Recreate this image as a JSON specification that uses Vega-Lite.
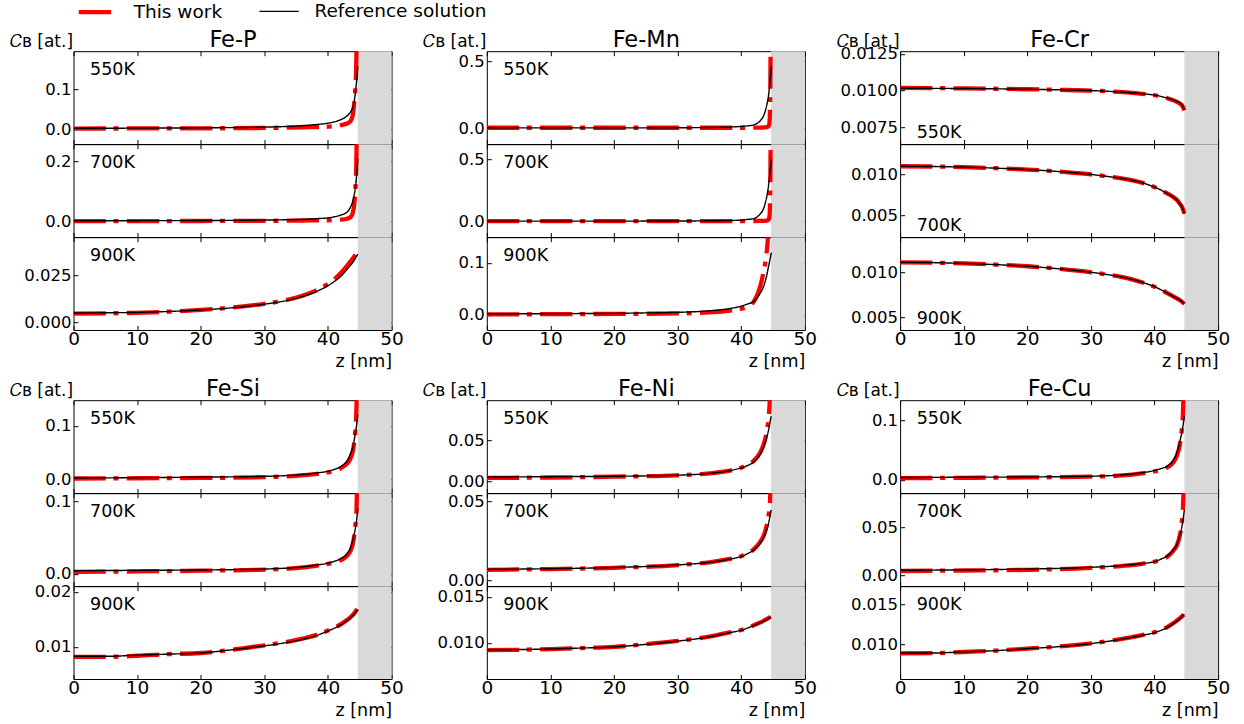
{
"$schema":"https://vega.github.io/schema/vega-lite/v6.json",
"padding":{"left":8.5,"top":-10.8,"right":5,"bottom":5},
"background":"white",
"config":{"font":"DejaVu Sans","view":{"stroke":"#000","strokeWidth":1},
"axis":{"tickSize":-4.5,"tickColor":"#000","tickWidth":1,"domain":false,"grid":false,"labelColor":"#000","titleColor":"#000","titleFontWeight":"normal","labelFlush":false,"labelOverlap":false,"labelFont":"DejaVu Sans","titleFont":"DejaVu Sans"},
"axisX":{"labelFontSize":18.5,"labelPadding":4},
"axisY":{"labelFontSize":16.5,"labelPadding":7},
"legend":{"labelFont":"DejaVu Sans"},
"text":{"font":"DejaVu Sans","color":"#000"}},
"datasets":{
"band":[{"a":44.7,"b":50}],
"P550r":[{"z":0,"v":0.003},{"z":10,"v":0.0035},{"z":20,"v":0.0042},{"z":30,"v":0.006},{"z":35,"v":0.0088},{"z":38,"v":0.0122},{"z":40,"v":0.0158},{"z":41,"v":0.019},{"z":42,"v":0.0245},{"z":43,"v":0.034},{"z":43.6,"v":0.045},{"z":44,"v":0.06},{"z":44.3,"v":0.088},{"z":44.5,"v":0.118},{"z":44.7,"v":0.158}],
"P550w":[{"z":0,"v":0.0025},{"z":10,"v":0.0027},{"z":20,"v":0.003},{"z":30,"v":0.004},{"z":36,"v":0.0055},{"z":40,"v":0.007},{"z":42,"v":0.011},{"z":43,"v":0.015},{"z":43.6,"v":0.022},{"z":43.9,"v":0.035},{"z":44.1,"v":0.06},{"z":44.3,"v":0.1},{"z":44.45,"v":0.16},{"z":44.55,"v":0.3},{"z":44.65,"v":1}],
"P700r":[{"z":0,"v":0.002},{"z":10,"v":0.0025},{"z":20,"v":0.003},{"z":30,"v":0.0045},{"z":35,"v":0.0065},{"z":38,"v":0.009},{"z":40,"v":0.012},{"z":41,"v":0.0155},{"z":42,"v":0.021},{"z":43,"v":0.031},{"z":43.6,"v":0.05},{"z":44,"v":0.075},{"z":44.3,"v":0.11},{"z":44.5,"v":0.15},{"z":44.7,"v":0.21}],
"P700w":[{"z":0,"v":0.001},{"z":20,"v":0.0015},{"z":30,"v":0.002},{"z":36,"v":0.003},{"z":40,"v":0.004},{"z":42,"v":0.006},{"z":43,"v":0.009},{"z":43.6,"v":0.015},{"z":43.9,"v":0.028},{"z":44.1,"v":0.05},{"z":44.3,"v":0.1},{"z":44.45,"v":0.18},{"z":44.55,"v":0.35},{"z":44.65,"v":1}],
"P900r":[{"z":0,"v":0.005},{"z":5,"v":0.0051},{"z":10,"v":0.0053},{"z":15,"v":0.0058},{"z":20,"v":0.0066},{"z":25,"v":0.0078},{"z":30,"v":0.0097},{"z":33,"v":0.0113},{"z":36,"v":0.0138},{"z":38,"v":0.0162},{"z":40,"v":0.0196},{"z":41,"v":0.0218},{"z":42,"v":0.0245},{"z":43,"v":0.0283},{"z":44,"v":0.0325},{"z":44.7,"v":0.0365}],
"P900w":[{"z":0,"v":0.0047},{"z":5,"v":0.0048},{"z":10,"v":0.0051},{"z":15,"v":0.0057},{"z":20,"v":0.0066},{"z":25,"v":0.0079},{"z":30,"v":0.0099},{"z":33,"v":0.0116},{"z":36,"v":0.0142},{"z":38,"v":0.0168},{"z":40,"v":0.0205},{"z":41,"v":0.023},{"z":42,"v":0.0262},{"z":43,"v":0.0302},{"z":44,"v":0.0345},{"z":44.6,"v":0.0375}],
"Mn550r":[{"z":0,"v":0.001},{"z":20,"v":0.0012},{"z":30,"v":0.002},{"z":35,"v":0.004},{"z":38,"v":0.007},{"z":40,"v":0.012},{"z":41,"v":0.016},{"z":42,"v":0.024},{"z":42.5,"v":0.035},{"z":43,"v":0.055},{"z":43.5,"v":0.09},{"z":43.8,"v":0.13},{"z":44.1,"v":0.19},{"z":44.3,"v":0.245},{"z":44.5,"v":0.33},{"z":44.75,"v":0.47}],
"Mn550w":[{"z":0,"v":0.002},{"z":30,"v":0.002},{"z":40,"v":0.002},{"z":43,"v":0.003},{"z":44,"v":0.006},{"z":44.3,"v":0.012},{"z":44.45,"v":0.04},{"z":44.55,"v":0.2},{"z":44.62,"v":0.6},{"z":44.7,"v":2}],
"Mn700r":[{"z":0,"v":0.001},{"z":30,"v":0.002},{"z":35,"v":0.004},{"z":38,"v":0.006},{"z":40,"v":0.01},{"z":41,"v":0.015},{"z":42,"v":0.022},{"z":42.5,"v":0.035},{"z":43,"v":0.06},{"z":43.5,"v":0.1},{"z":43.8,"v":0.15},{"z":44.1,"v":0.22},{"z":44.3,"v":0.29},{"z":44.5,"v":0.38},{"z":44.75,"v":0.5}],
"Mn700w":[{"z":0,"v":0.002},{"z":30,"v":0.002},{"z":40,"v":0.002},{"z":43,"v":0.003},{"z":44,"v":0.006},{"z":44.3,"v":0.012},{"z":44.45,"v":0.04},{"z":44.55,"v":0.2},{"z":44.62,"v":0.6},{"z":44.7,"v":2}],
"Mn900r":[{"z":0,"v":0.002},{"z":10,"v":0.0025},{"z":20,"v":0.003},{"z":25,"v":0.004},{"z":30,"v":0.005},{"z":35,"v":0.008},{"z":38,"v":0.012},{"z":40,"v":0.017},{"z":41,"v":0.021},{"z":42,"v":0.026},{"z":43,"v":0.042},{"z":43.5,"v":0.054},{"z":44,"v":0.075},{"z":44.3,"v":0.093},{"z":44.75,"v":0.12}],
"Mn900w":[{"z":0,"v":0.001},{"z":10,"v":0.0015},{"z":20,"v":0.002},{"z":30,"v":0.003},{"z":35,"v":0.005},{"z":38,"v":0.008},{"z":40,"v":0.012},{"z":41,"v":0.016},{"z":42,"v":0.026},{"z":42.5,"v":0.038},{"z":43,"v":0.055},{"z":43.5,"v":0.082},{"z":44,"v":0.12},{"z":44.2,"v":0.15},{"z":44.4,"v":0.3}],
"Cr550r":[{"z":0,"v":0.01015},{"z":10,"v":0.01013},{"z":20,"v":0.01008},{"z":25,"v":0.01004},{"z":30,"v":0.00999},{"z":35,"v":0.00988},{"z":38,"v":0.00978},{"z":40,"v":0.00968},{"z":42,"v":0.00948},{"z":43,"v":0.00934},{"z":44,"v":0.00912},{"z":44.4,"v":0.00896},{"z":44.7,"v":0.00868}],
"Cr550w":[{"z":0,"v":0.01017},{"z":10,"v":0.01014},{"z":20,"v":0.01008},{"z":25,"v":0.01004},{"z":30,"v":0.00999},{"z":35,"v":0.00988},{"z":38,"v":0.00977},{"z":40,"v":0.00967},{"z":42,"v":0.00947},{"z":43,"v":0.00932},{"z":44,"v":0.0091},{"z":44.4,"v":0.00893},{"z":44.7,"v":0.00864}],
"Cr700r":[{"z":0,"v":0.011},{"z":5,"v":0.01097},{"z":10,"v":0.0109},{"z":15,"v":0.01077},{"z":20,"v":0.0106},{"z":25,"v":0.01035},{"z":30,"v":0.01},{"z":33,"v":0.00972},{"z":35,"v":0.0095},{"z":38,"v":0.009},{"z":40,"v":0.00845},{"z":41,"v":0.0081},{"z":42,"v":0.00768},{"z":43,"v":0.0072},{"z":43.5,"v":0.0069},{"z":44,"v":0.0064},{"z":44.4,"v":0.0059},{"z":44.7,"v":0.0052}],
"Cr700w":[{"z":0,"v":0.0110},{"z":5,"v":0.01097},{"z":10,"v":0.0109},{"z":15,"v":0.01077},{"z":20,"v":0.0106},{"z":25,"v":0.01035},{"z":30,"v":0.01},{"z":33,"v":0.00972},{"z":35,"v":0.0095},{"z":38,"v":0.009},{"z":40,"v":0.00845},{"z":41,"v":0.0081},{"z":42,"v":0.00768},{"z":43,"v":0.0072},{"z":43.5,"v":0.0069},{"z":44,"v":0.0064},{"z":44.4,"v":0.0059},{"z":44.7,"v":0.0052}],
"Cr900r":[{"z":0,"v":0.0111},{"z":5,"v":0.01107},{"z":10,"v":0.01098},{"z":15,"v":0.01085},{"z":20,"v":0.01067},{"z":25,"v":0.01038},{"z":30,"v":0.01},{"z":33,"v":0.0097},{"z":36,"v":0.0093},{"z":38,"v":0.0089},{"z":40,"v":0.0084},{"z":42,"v":0.0077},{"z":43,"v":0.0073},{"z":44,"v":0.0069},{"z":44.7,"v":0.0065}],
"Cr900w":[{"z":0,"v":0.0111},{"z":5,"v":0.01107},{"z":10,"v":0.01098},{"z":15,"v":0.01085},{"z":20,"v":0.01067},{"z":25,"v":0.01038},{"z":30,"v":0.01},{"z":33,"v":0.0097},{"z":36,"v":0.0093},{"z":38,"v":0.0089},{"z":40,"v":0.0084},{"z":42,"v":0.0077},{"z":43,"v":0.0073},{"z":44,"v":0.0069},{"z":44.7,"v":0.0065}],
"Si550r":[{"z":0,"v":0.003},{"z":10,"v":0.0035},{"z":20,"v":0.0045},{"z":30,"v":0.006},{"z":35,"v":0.0085},{"z":38,"v":0.012},{"z":40,"v":0.0156},{"z":41,"v":0.019},{"z":42,"v":0.024},{"z":43,"v":0.035},{"z":43.5,"v":0.047},{"z":44,"v":0.065},{"z":44.3,"v":0.085},{"z":44.5,"v":0.1},{"z":44.7,"v":0.122}],
"Si550w":[{"z":0,"v":0.002},{"z":10,"v":0.0025},{"z":20,"v":0.003},{"z":30,"v":0.0045},{"z":35,"v":0.007},{"z":38,"v":0.01},{"z":40,"v":0.0135},{"z":41,"v":0.016},{"z":42,"v":0.021},{"z":43,"v":0.03},{"z":43.5,"v":0.038},{"z":44,"v":0.058},{"z":44.3,"v":0.09},{"z":44.5,"v":0.14},{"z":44.65,"v":0.5}],
"Si700r":[{"z":0,"v":0.0045},{"z":10,"v":0.005},{"z":20,"v":0.0055},{"z":30,"v":0.0068},{"z":35,"v":0.009},{"z":38,"v":0.012},{"z":40,"v":0.015},{"z":41,"v":0.0175},{"z":42,"v":0.021},{"z":43,"v":0.028},{"z":43.5,"v":0.035},{"z":44,"v":0.05},{"z":44.3,"v":0.062},{"z":44.5,"v":0.073},{"z":44.7,"v":0.091}],
"Si700w":[{"z":0,"v":0.003},{"z":10,"v":0.0035},{"z":20,"v":0.0045},{"z":30,"v":0.006},{"z":35,"v":0.008},{"z":38,"v":0.011},{"z":40,"v":0.014},{"z":41,"v":0.016},{"z":42,"v":0.019},{"z":43,"v":0.025},{"z":43.5,"v":0.031},{"z":44,"v":0.045},{"z":44.3,"v":0.065},{"z":44.5,"v":0.09},{"z":44.6,"v":0.15},{"z":44.65,"v":0.5}],
"Si900r":[{"z":0,"v":0.0083},{"z":5,"v":0.0083},{"z":10,"v":0.0085},{"z":15,"v":0.0087},{"z":20,"v":0.0089},{"z":25,"v":0.0095},{"z":30,"v":0.0102},{"z":33,"v":0.0107},{"z":36,"v":0.0114},{"z":38,"v":0.012},{"z":40,"v":0.0129},{"z":42,"v":0.014},{"z":43,"v":0.0148},{"z":44,"v":0.0158},{"z":44.7,"v":0.0168}],
"Si900w":[{"z":0,"v":0.0082},{"z":5,"v":0.0082},{"z":10,"v":0.0084},{"z":15,"v":0.0087},{"z":20,"v":0.0089},{"z":25,"v":0.0095},{"z":30,"v":0.0103},{"z":33,"v":0.0108},{"z":36,"v":0.0115},{"z":38,"v":0.0121},{"z":40,"v":0.013},{"z":42,"v":0.0141},{"z":43,"v":0.0149},{"z":44,"v":0.0159},{"z":44.6,"v":0.0169}],
"Ni550r":[{"z":0,"v":0.005},{"z":10,"v":0.0055},{"z":20,"v":0.006},{"z":30,"v":0.0073},{"z":35,"v":0.0095},{"z":38,"v":0.0125},{"z":40,"v":0.0163},{"z":41,"v":0.019},{"z":42,"v":0.0236},{"z":43,"v":0.033},{"z":43.5,"v":0.041},{"z":44,"v":0.053},{"z":44.3,"v":0.062},{"z":44.5,"v":0.07},{"z":44.7,"v":0.079}],
"Ni550w":[{"z":0,"v":0.004},{"z":10,"v":0.0045},{"z":20,"v":0.0055},{"z":30,"v":0.0072},{"z":35,"v":0.0095},{"z":38,"v":0.0125},{"z":40,"v":0.0165},{"z":41,"v":0.02},{"z":42,"v":0.025},{"z":43,"v":0.035},{"z":43.5,"v":0.044},{"z":44,"v":0.06},{"z":44.3,"v":0.077},{"z":44.5,"v":0.1},{"z":44.6,"v":0.15},{"z":44.65,"v":0.5}],
"Ni700r":[{"z":0,"v":0.0068},{"z":10,"v":0.0072},{"z":20,"v":0.008},{"z":30,"v":0.0096},{"z":35,"v":0.0113},{"z":38,"v":0.0132},{"z":40,"v":0.015},{"z":41,"v":0.0168},{"z":42,"v":0.0192},{"z":43,"v":0.0235},{"z":43.5,"v":0.0266},{"z":44,"v":0.032},{"z":44.3,"v":0.036},{"z":44.5,"v":0.04},{"z":44.7,"v":0.0447}],
"Ni700w":[{"z":0,"v":0.0065},{"z":10,"v":0.007},{"z":20,"v":0.0078},{"z":30,"v":0.0095},{"z":35,"v":0.0113},{"z":38,"v":0.0133},{"z":40,"v":0.0152},{"z":41,"v":0.017},{"z":42,"v":0.0197},{"z":43,"v":0.0245},{"z":43.5,"v":0.028},{"z":44,"v":0.0345},{"z":44.3,"v":0.041},{"z":44.5,"v":0.048},{"z":44.6,"v":0.06},{"z":44.65,"v":0.2}],
"Ni900r":[{"z":0,"v":0.00925},{"z":5,"v":0.00928},{"z":10,"v":0.00935},{"z":15,"v":0.00945},{"z":20,"v":0.00957},{"z":25,"v":0.00985},{"z":30,"v":0.0102},{"z":33,"v":0.01045},{"z":36,"v":0.0108},{"z":38,"v":0.0111},{"z":40,"v":0.01138},{"z":42,"v":0.0119},{"z":43,"v":0.0122},{"z":44,"v":0.01255},{"z":44.7,"v":0.01283}],
"Ni900w":[{"z":0,"v":0.00922},{"z":5,"v":0.00926},{"z":10,"v":0.00934},{"z":15,"v":0.00945},{"z":20,"v":0.00958},{"z":25,"v":0.00987},{"z":30,"v":0.01022},{"z":33,"v":0.01048},{"z":36,"v":0.01083},{"z":38,"v":0.01112},{"z":40,"v":0.0114},{"z":42,"v":0.01193},{"z":43,"v":0.01223},{"z":44,"v":0.01258},{"z":44.6,"v":0.01285}],
"Cu550r":[{"z":0,"v":0.004},{"z":10,"v":0.0045},{"z":20,"v":0.005},{"z":30,"v":0.0062},{"z":35,"v":0.0085},{"z":38,"v":0.012},{"z":40,"v":0.0158},{"z":41,"v":0.019},{"z":42,"v":0.023},{"z":43,"v":0.034},{"z":43.5,"v":0.045},{"z":44,"v":0.065},{"z":44.3,"v":0.08},{"z":44.5,"v":0.092},{"z":44.7,"v":0.107}],
"Cu550w":[{"z":0,"v":0.003},{"z":10,"v":0.0035},{"z":20,"v":0.0042},{"z":30,"v":0.0055},{"z":35,"v":0.0075},{"z":38,"v":0.011},{"z":40,"v":0.0145},{"z":41,"v":0.017},{"z":42,"v":0.021},{"z":43,"v":0.03},{"z":43.5,"v":0.04},{"z":44,"v":0.06},{"z":44.3,"v":0.085},{"z":44.5,"v":0.12},{"z":44.6,"v":0.2},{"z":44.65,"v":0.5}],
"Cu700r":[{"z":0,"v":0.0055},{"z":10,"v":0.006},{"z":20,"v":0.0068},{"z":30,"v":0.0086},{"z":35,"v":0.0105},{"z":38,"v":0.0125},{"z":40,"v":0.0145},{"z":41,"v":0.017},{"z":42,"v":0.0204},{"z":43,"v":0.027},{"z":43.5,"v":0.032},{"z":44,"v":0.042},{"z":44.3,"v":0.05},{"z":44.5,"v":0.058},{"z":44.7,"v":0.068}],
"Cu700w":[{"z":0,"v":0.0048},{"z":10,"v":0.0053},{"z":20,"v":0.006},{"z":30,"v":0.008},{"z":35,"v":0.01},{"z":38,"v":0.0122},{"z":40,"v":0.0145},{"z":41,"v":0.0165},{"z":42,"v":0.0195},{"z":43,"v":0.026},{"z":43.5,"v":0.031},{"z":44,"v":0.042},{"z":44.3,"v":0.055},{"z":44.5,"v":0.075},{"z":44.6,"v":0.1},{"z":44.65,"v":0.5}],
"Cu900r":[{"z":0,"v":0.0089},{"z":5,"v":0.0089},{"z":10,"v":0.00905},{"z":15,"v":0.0092},{"z":20,"v":0.00945},{"z":25,"v":0.0097},{"z":30,"v":0.01008},{"z":33,"v":0.0104},{"z":36,"v":0.0108},{"z":38,"v":0.0111},{"z":40,"v":0.01145},{"z":42,"v":0.0121},{"z":43,"v":0.0126},{"z":44,"v":0.0132},{"z":44.7,"v":0.01375}],
"Cu900w":[{"z":0,"v":0.00885},{"z":5,"v":0.00888},{"z":10,"v":0.00903},{"z":15,"v":0.0092},{"z":20,"v":0.00946},{"z":25,"v":0.00972},{"z":30,"v":0.0101},{"z":33,"v":0.01043},{"z":36,"v":0.01083},{"z":38,"v":0.01113},{"z":40,"v":0.0115},{"z":42,"v":0.01215},{"z":43,"v":0.01265},{"z":44,"v":0.01325},{"z":44.6,"v":0.0137}]
},
"columns":3,
"spacing":{"row":0,"column":95.3},
"bounds":"flush",
"align":"each",
"resolve":{"scale":{"x":"independent","y":"independent","color":"shared","strokeDash":"shared","strokeWidth":"shared"}},
"concat":[
{"width":318,"height":92.8,"resolve":{"axis":{"x":"independent","y":"independent"}},"layer":[
{"data":{"name":"band"},"mark":{"type":"rect","color":"#d9d9d9"},"encoding":{"x":{"field":"a","type":"quantitative","scale":{"domain":[0,50],"nice":false},"axis":null},"x2":{"field":"b"}}},
{"data":{"name":"P550w"},"mark":{"type":"line","clip":true,"interpolate":"monotone","strokeCap":"butt"},"encoding":{"x":{"field":"z","type":"quantitative","scale":{"domain":[0,50],"nice":false},"axis":{"orient":"bottom","values":[0,10,20,30,40,50],"labels":false,"title":null}},"y":{"field":"v","type":"quantitative","scale":{"domain":[-0.036,0.195],"nice":false,"zero":false},"axis":{"orient":"left","values":[0,0.1],"format":".1f","title":"𝐶ʙ [at.]","titleAngle":0,"titleX":-1,"titleY":-4.2,"titleAlign":"right","titleBaseline":"alphabetic","titleFontSize":17}},"color":{"datum":"w","type":"nominal","scale":{"domain":["w","r"],"range":["#ff0000","#000000"]},"legend":{"orient":"none","legendX":2.9,"legendY":-61.3,"direction":"horizontal","columns":2,"title":null,"labelExpr":"datum.value=='w'?'This work':'Reference solution'","symbolType":"stroke","symbolSize":1545,"labelFontSize":18.5,"labelOffset":13.3,"columnPadding":33.7,"padding":0,"labelColor":"#000","labelLimit":400,"encode":{"symbols":{"update":{"strokeDash":{"signal":"datum.value=='w'?[32.3,7.7,5,8.3]:[1,0]"},"strokeWidth":{"signal":"datum.value=='w'?5:1.4"},"strokeCap":{"value":"butt"}}}}}},"strokeDash":{"datum":"w","type":"nominal","scale":{"domain":["w","r"],"range":[[32.3,7.7,5,8.3],[1,0]]}},"strokeWidth":{"datum":"w","type":"ordinal","scale":{"domain":["w","r"],"range":[4.3,1.4]}}}},
{"data":{"name":"P550r"},"mark":{"type":"line","clip":true,"interpolate":"monotone"},"encoding":{"x":{"field":"z","type":"quantitative","scale":{"domain":[0,50],"nice":false},"axis":{"orient":"top","values":[0,10,20,30,40,50],"labels":false,"title":"Fe-P","titleX":159,"titleY":-4.7,"titleAlign":"center","titleBaseline":"alphabetic","titleFontSize":22.5}},"y":{"field":"v","type":"quantitative","scale":{"domain":[-0.036,0.195],"nice":false,"zero":false},"axis":{"orient":"right","values":[0,0.1],"labels":false,"title":null}},"color":{"datum":"r","type":"nominal","scale":{"domain":["w","r"],"range":["#ff0000","#000000"]}},"strokeDash":{"datum":"r","type":"nominal","scale":{"domain":["w","r"],"range":[[32.3,7.7,5,8.3],[1,0]]}},"strokeWidth":{"datum":"r","type":"ordinal","scale":{"domain":["w","r"],"range":[4.3,1.4]}}}},
{"data":{"values":[{"lab":"550K"}]},"mark":{"type":"text","align":"left","baseline":"alphabetic","dy":23.5,"fontSize":17.5},"encoding":{"text":{"field":"lab"},"x":{"datum":2.6,"type":"quantitative","scale":{"domain":[0,50],"nice":false},"axis":null},"y":{"datum":0.195,"type":"quantitative","scale":{"domain":[-0.036,0.195],"nice":false,"zero":false},"axis":null}}}
]},
{"width":318,"height":92.8,"resolve":{"axis":{"x":"independent","y":"independent"}},"layer":[
{"data":{"name":"band"},"mark":{"type":"rect","color":"#d9d9d9"},"encoding":{"x":{"field":"a","type":"quantitative","scale":{"domain":[0,50],"nice":false},"axis":null},"x2":{"field":"b"}}},
{"data":{"name":"Mn550w"},"mark":{"type":"line","clip":true,"interpolate":"monotone","strokeCap":"butt"},"encoding":{"x":{"field":"z","type":"quantitative","scale":{"domain":[0,50],"nice":false},"axis":{"orient":"bottom","values":[0,10,20,30,40,50],"labels":false,"title":null}},"y":{"field":"v","type":"quantitative","scale":{"domain":[-0.12,0.577],"nice":false,"zero":false},"axis":{"orient":"left","values":[0,0.5],"format":".1f","title":"𝐶ʙ [at.]","titleAngle":0,"titleX":-1,"titleY":-4.2,"titleAlign":"right","titleBaseline":"alphabetic","titleFontSize":17}},"color":{"datum":"w","type":"nominal","scale":{"domain":["w","r"],"range":["#ff0000","#000000"]}},"strokeDash":{"datum":"w","type":"nominal","scale":{"domain":["w","r"],"range":[[32.3,7.7,5,8.3],[1,0]]}},"strokeWidth":{"datum":"w","type":"ordinal","scale":{"domain":["w","r"],"range":[4.3,1.4]}}}},
{"data":{"name":"Mn550r"},"mark":{"type":"line","clip":true,"interpolate":"monotone"},"encoding":{"x":{"field":"z","type":"quantitative","scale":{"domain":[0,50],"nice":false},"axis":{"orient":"top","values":[0,10,20,30,40,50],"labels":false,"title":"Fe-Mn","titleX":159,"titleY":-4.7,"titleAlign":"center","titleBaseline":"alphabetic","titleFontSize":22.5}},"y":{"field":"v","type":"quantitative","scale":{"domain":[-0.12,0.577],"nice":false,"zero":false},"axis":{"orient":"right","values":[0,0.5],"labels":false,"title":null}},"color":{"datum":"r","type":"nominal","scale":{"domain":["w","r"],"range":["#ff0000","#000000"]}},"strokeDash":{"datum":"r","type":"nominal","scale":{"domain":["w","r"],"range":[[32.3,7.7,5,8.3],[1,0]]}},"strokeWidth":{"datum":"r","type":"ordinal","scale":{"domain":["w","r"],"range":[4.3,1.4]}}}},
{"data":{"values":[{"lab":"550K"}]},"mark":{"type":"text","align":"left","baseline":"alphabetic","dy":23.5,"fontSize":17.5},"encoding":{"text":{"field":"lab"},"x":{"datum":2.6,"type":"quantitative","scale":{"domain":[0,50],"nice":false},"axis":null},"y":{"datum":0.577,"type":"quantitative","scale":{"domain":[-0.12,0.577],"nice":false,"zero":false},"axis":null}}}
]},
{"width":318,"height":92.8,"resolve":{"axis":{"x":"independent","y":"independent"}},"layer":[
{"data":{"name":"band"},"mark":{"type":"rect","color":"#d9d9d9"},"encoding":{"x":{"field":"a","type":"quantitative","scale":{"domain":[0,50],"nice":false},"axis":null},"x2":{"field":"b"}}},
{"data":{"name":"Cr550w"},"mark":{"type":"line","clip":true,"interpolate":"monotone","strokeCap":"butt"},"encoding":{"x":{"field":"z","type":"quantitative","scale":{"domain":[0,50],"nice":false},"axis":{"orient":"bottom","values":[0,10,20,30,40,50],"labels":false,"title":null}},"y":{"field":"v","type":"quantitative","scale":{"domain":[0.00634,0.01268],"nice":false,"zero":false},"axis":{"orient":"left","values":[0.0075,0.01,0.0125],"format":".4f","title":"𝐶ʙ [at.]","titleAngle":0,"titleX":-1,"titleY":-4.2,"titleAlign":"right","titleBaseline":"alphabetic","titleFontSize":17}},"color":{"datum":"w","type":"nominal","scale":{"domain":["w","r"],"range":["#ff0000","#000000"]}},"strokeDash":{"datum":"w","type":"nominal","scale":{"domain":["w","r"],"range":[[32.3,7.7,5,8.3],[1,0]]}},"strokeWidth":{"datum":"w","type":"ordinal","scale":{"domain":["w","r"],"range":[4.3,1.4]}}}},
{"data":{"name":"Cr550r"},"mark":{"type":"line","clip":true,"interpolate":"monotone"},"encoding":{"x":{"field":"z","type":"quantitative","scale":{"domain":[0,50],"nice":false},"axis":{"orient":"top","values":[0,10,20,30,40,50],"labels":false,"title":"Fe-Cr","titleX":159,"titleY":-4.7,"titleAlign":"center","titleBaseline":"alphabetic","titleFontSize":22.5}},"y":{"field":"v","type":"quantitative","scale":{"domain":[0.00634,0.01268],"nice":false,"zero":false},"axis":{"orient":"right","values":[0.0075,0.01,0.0125],"labels":false,"title":null}},"color":{"datum":"r","type":"nominal","scale":{"domain":["w","r"],"range":["#ff0000","#000000"]}},"strokeDash":{"datum":"r","type":"nominal","scale":{"domain":["w","r"],"range":[[32.3,7.7,5,8.3],[1,0]]}},"strokeWidth":{"datum":"r","type":"ordinal","scale":{"domain":["w","r"],"range":[4.3,1.4]}}}},
{"data":{"values":[{"lab":"550K"}]},"mark":{"type":"text","align":"left","baseline":"alphabetic","dy":-5.7,"fontSize":17.5},"encoding":{"text":{"field":"lab"},"x":{"datum":2.6,"type":"quantitative","scale":{"domain":[0,50],"nice":false},"axis":null},"y":{"datum":0.00634,"type":"quantitative","scale":{"domain":[0.00634,0.01268],"nice":false,"zero":false},"axis":null}}}
]},
{"width":318,"height":92.8,"resolve":{"axis":{"x":"independent","y":"independent"}},"layer":[
{"data":{"name":"band"},"mark":{"type":"rect","color":"#d9d9d9"},"encoding":{"x":{"field":"a","type":"quantitative","scale":{"domain":[0,50],"nice":false},"axis":null},"x2":{"field":"b"}}},
{"data":{"name":"P700w"},"mark":{"type":"line","clip":true,"interpolate":"monotone","strokeCap":"butt"},"encoding":{"x":{"field":"z","type":"quantitative","scale":{"domain":[0,50],"nice":false},"axis":{"orient":"bottom","values":[0,10,20,30,40,50],"labels":false,"title":null}},"y":{"field":"v","type":"quantitative","scale":{"domain":[-0.052,0.258],"nice":false,"zero":false},"axis":{"orient":"left","values":[0,0.2],"format":".1f","title":null}},"color":{"datum":"w","type":"nominal","scale":{"domain":["w","r"],"range":["#ff0000","#000000"]}},"strokeDash":{"datum":"w","type":"nominal","scale":{"domain":["w","r"],"range":[[32.3,7.7,5,8.3],[1,0]]}},"strokeWidth":{"datum":"w","type":"ordinal","scale":{"domain":["w","r"],"range":[4.3,1.4]}}}},
{"data":{"name":"P700r"},"mark":{"type":"line","clip":true,"interpolate":"monotone"},"encoding":{"x":{"field":"z","type":"quantitative","scale":{"domain":[0,50],"nice":false},"axis":{"orient":"top","values":[0,10,20,30,40,50],"labels":false,"title":null}},"y":{"field":"v","type":"quantitative","scale":{"domain":[-0.052,0.258],"nice":false,"zero":false},"axis":{"orient":"right","values":[0,0.2],"labels":false,"title":null}},"color":{"datum":"r","type":"nominal","scale":{"domain":["w","r"],"range":["#ff0000","#000000"]}},"strokeDash":{"datum":"r","type":"nominal","scale":{"domain":["w","r"],"range":[[32.3,7.7,5,8.3],[1,0]]}},"strokeWidth":{"datum":"r","type":"ordinal","scale":{"domain":["w","r"],"range":[4.3,1.4]}}}},
{"data":{"values":[{"lab":"700K"}]},"mark":{"type":"text","align":"left","baseline":"alphabetic","dy":23.5,"fontSize":17.5},"encoding":{"text":{"field":"lab"},"x":{"datum":2.6,"type":"quantitative","scale":{"domain":[0,50],"nice":false},"axis":null},"y":{"datum":0.258,"type":"quantitative","scale":{"domain":[-0.052,0.258],"nice":false,"zero":false},"axis":null}}}
]},
{"width":318,"height":92.8,"resolve":{"axis":{"x":"independent","y":"independent"}},"layer":[
{"data":{"name":"band"},"mark":{"type":"rect","color":"#d9d9d9"},"encoding":{"x":{"field":"a","type":"quantitative","scale":{"domain":[0,50],"nice":false},"axis":null},"x2":{"field":"b"}}},
{"data":{"name":"Mn700w"},"mark":{"type":"line","clip":true,"interpolate":"monotone","strokeCap":"butt"},"encoding":{"x":{"field":"z","type":"quantitative","scale":{"domain":[0,50],"nice":false},"axis":{"orient":"bottom","values":[0,10,20,30,40,50],"labels":false,"title":null}},"y":{"field":"v","type":"quantitative","scale":{"domain":[-0.127,0.623],"nice":false,"zero":false},"axis":{"orient":"left","values":[0,0.5],"format":".1f","title":null}},"color":{"datum":"w","type":"nominal","scale":{"domain":["w","r"],"range":["#ff0000","#000000"]}},"strokeDash":{"datum":"w","type":"nominal","scale":{"domain":["w","r"],"range":[[32.3,7.7,5,8.3],[1,0]]}},"strokeWidth":{"datum":"w","type":"ordinal","scale":{"domain":["w","r"],"range":[4.3,1.4]}}}},
{"data":{"name":"Mn700r"},"mark":{"type":"line","clip":true,"interpolate":"monotone"},"encoding":{"x":{"field":"z","type":"quantitative","scale":{"domain":[0,50],"nice":false},"axis":{"orient":"top","values":[0,10,20,30,40,50],"labels":false,"title":null}},"y":{"field":"v","type":"quantitative","scale":{"domain":[-0.127,0.623],"nice":false,"zero":false},"axis":{"orient":"right","values":[0,0.5],"labels":false,"title":null}},"color":{"datum":"r","type":"nominal","scale":{"domain":["w","r"],"range":["#ff0000","#000000"]}},"strokeDash":{"datum":"r","type":"nominal","scale":{"domain":["w","r"],"range":[[32.3,7.7,5,8.3],[1,0]]}},"strokeWidth":{"datum":"r","type":"ordinal","scale":{"domain":["w","r"],"range":[4.3,1.4]}}}},
{"data":{"values":[{"lab":"700K"}]},"mark":{"type":"text","align":"left","baseline":"alphabetic","dy":23.5,"fontSize":17.5},"encoding":{"text":{"field":"lab"},"x":{"datum":2.6,"type":"quantitative","scale":{"domain":[0,50],"nice":false},"axis":null},"y":{"datum":0.623,"type":"quantitative","scale":{"domain":[-0.127,0.623],"nice":false,"zero":false},"axis":null}}}
]},
{"width":318,"height":92.8,"resolve":{"axis":{"x":"independent","y":"independent"}},"layer":[
{"data":{"name":"band"},"mark":{"type":"rect","color":"#d9d9d9"},"encoding":{"x":{"field":"a","type":"quantitative","scale":{"domain":[0,50],"nice":false},"axis":null},"x2":{"field":"b"}}},
{"data":{"name":"Cr700w"},"mark":{"type":"line","clip":true,"interpolate":"monotone","strokeCap":"butt"},"encoding":{"x":{"field":"z","type":"quantitative","scale":{"domain":[0,50],"nice":false},"axis":{"orient":"bottom","values":[0,10,20,30,40,50],"labels":false,"title":null}},"y":{"field":"v","type":"quantitative","scale":{"domain":[0.00235,0.0137],"nice":false,"zero":false},"axis":{"orient":"left","values":[0.005,0.01],"format":".3f","title":null}},"color":{"datum":"w","type":"nominal","scale":{"domain":["w","r"],"range":["#ff0000","#000000"]}},"strokeDash":{"datum":"w","type":"nominal","scale":{"domain":["w","r"],"range":[[32.3,7.7,5,8.3],[1,0]]}},"strokeWidth":{"datum":"w","type":"ordinal","scale":{"domain":["w","r"],"range":[4.3,1.4]}}}},
{"data":{"name":"Cr700r"},"mark":{"type":"line","clip":true,"interpolate":"monotone"},"encoding":{"x":{"field":"z","type":"quantitative","scale":{"domain":[0,50],"nice":false},"axis":{"orient":"top","values":[0,10,20,30,40,50],"labels":false,"title":null}},"y":{"field":"v","type":"quantitative","scale":{"domain":[0.00235,0.0137],"nice":false,"zero":false},"axis":{"orient":"right","values":[0.005,0.01],"labels":false,"title":null}},"color":{"datum":"r","type":"nominal","scale":{"domain":["w","r"],"range":["#ff0000","#000000"]}},"strokeDash":{"datum":"r","type":"nominal","scale":{"domain":["w","r"],"range":[[32.3,7.7,5,8.3],[1,0]]}},"strokeWidth":{"datum":"r","type":"ordinal","scale":{"domain":["w","r"],"range":[4.3,1.4]}}}},
{"data":{"values":[{"lab":"700K"}]},"mark":{"type":"text","align":"left","baseline":"alphabetic","dy":-5.7,"fontSize":17.5},"encoding":{"text":{"field":"lab"},"x":{"datum":2.6,"type":"quantitative","scale":{"domain":[0,50],"nice":false},"axis":null},"y":{"datum":0.00235,"type":"quantitative","scale":{"domain":[0.00235,0.0137],"nice":false,"zero":false},"axis":null}}}
]},
{"width":318,"height":92.8,"resolve":{"axis":{"x":"independent","y":"independent"}},"layer":[
{"data":{"name":"band"},"mark":{"type":"rect","color":"#d9d9d9"},"encoding":{"x":{"field":"a","type":"quantitative","scale":{"domain":[0,50],"nice":false},"axis":null},"x2":{"field":"b"}}},
{"data":{"name":"P900w"},"mark":{"type":"line","clip":true,"interpolate":"monotone","strokeCap":"butt"},"encoding":{"x":{"field":"z","type":"quantitative","scale":{"domain":[0,50],"nice":false},"axis":{"orient":"bottom","values":[0,10,20,30,40,50],"title":"z [nm]","titleX":318,"titleY":36.5,"titleAlign":"right","titleBaseline":"alphabetic","titleFontSize":17.5}},"y":{"field":"v","type":"quantitative","scale":{"domain":[-0.0041,0.0455],"nice":false,"zero":false},"axis":{"orient":"left","values":[0,0.025],"format":".3f","title":null}},"color":{"datum":"w","type":"nominal","scale":{"domain":["w","r"],"range":["#ff0000","#000000"]}},"strokeDash":{"datum":"w","type":"nominal","scale":{"domain":["w","r"],"range":[[32.3,7.7,5,8.3],[1,0]]}},"strokeWidth":{"datum":"w","type":"ordinal","scale":{"domain":["w","r"],"range":[4.3,1.4]}}}},
{"data":{"name":"P900r"},"mark":{"type":"line","clip":true,"interpolate":"monotone"},"encoding":{"x":{"field":"z","type":"quantitative","scale":{"domain":[0,50],"nice":false},"axis":{"orient":"top","values":[0,10,20,30,40,50],"labels":false,"title":null}},"y":{"field":"v","type":"quantitative","scale":{"domain":[-0.0041,0.0455],"nice":false,"zero":false},"axis":{"orient":"right","values":[0,0.025],"labels":false,"title":null}},"color":{"datum":"r","type":"nominal","scale":{"domain":["w","r"],"range":["#ff0000","#000000"]}},"strokeDash":{"datum":"r","type":"nominal","scale":{"domain":["w","r"],"range":[[32.3,7.7,5,8.3],[1,0]]}},"strokeWidth":{"datum":"r","type":"ordinal","scale":{"domain":["w","r"],"range":[4.3,1.4]}}}},
{"data":{"values":[{"lab":"900K"}]},"mark":{"type":"text","align":"left","baseline":"alphabetic","dy":23.5,"fontSize":17.5},"encoding":{"text":{"field":"lab"},"x":{"datum":2.6,"type":"quantitative","scale":{"domain":[0,50],"nice":false},"axis":null},"y":{"datum":0.0455,"type":"quantitative","scale":{"domain":[-0.0041,0.0455],"nice":false,"zero":false},"axis":null}}}
]},
{"width":318,"height":92.8,"resolve":{"axis":{"x":"independent","y":"independent"}},"layer":[
{"data":{"name":"band"},"mark":{"type":"rect","color":"#d9d9d9"},"encoding":{"x":{"field":"a","type":"quantitative","scale":{"domain":[0,50],"nice":false},"axis":null},"x2":{"field":"b"}}},
{"data":{"name":"Mn900w"},"mark":{"type":"line","clip":true,"interpolate":"monotone","strokeCap":"butt"},"encoding":{"x":{"field":"z","type":"quantitative","scale":{"domain":[0,50],"nice":false},"axis":{"orient":"bottom","values":[0,10,20,30,40,50],"title":"z [nm]","titleX":318,"titleY":36.5,"titleAlign":"right","titleBaseline":"alphabetic","titleFontSize":17.5}},"y":{"field":"v","type":"quantitative","scale":{"domain":[-0.0288,0.149],"nice":false,"zero":false},"axis":{"orient":"left","values":[0,0.1],"format":".1f","title":null}},"color":{"datum":"w","type":"nominal","scale":{"domain":["w","r"],"range":["#ff0000","#000000"]}},"strokeDash":{"datum":"w","type":"nominal","scale":{"domain":["w","r"],"range":[[32.3,7.7,5,8.3],[1,0]]}},"strokeWidth":{"datum":"w","type":"ordinal","scale":{"domain":["w","r"],"range":[4.3,1.4]}}}},
{"data":{"name":"Mn900r"},"mark":{"type":"line","clip":true,"interpolate":"monotone"},"encoding":{"x":{"field":"z","type":"quantitative","scale":{"domain":[0,50],"nice":false},"axis":{"orient":"top","values":[0,10,20,30,40,50],"labels":false,"title":null}},"y":{"field":"v","type":"quantitative","scale":{"domain":[-0.0288,0.149],"nice":false,"zero":false},"axis":{"orient":"right","values":[0,0.1],"labels":false,"title":null}},"color":{"datum":"r","type":"nominal","scale":{"domain":["w","r"],"range":["#ff0000","#000000"]}},"strokeDash":{"datum":"r","type":"nominal","scale":{"domain":["w","r"],"range":[[32.3,7.7,5,8.3],[1,0]]}},"strokeWidth":{"datum":"r","type":"ordinal","scale":{"domain":["w","r"],"range":[4.3,1.4]}}}},
{"data":{"values":[{"lab":"900K"}]},"mark":{"type":"text","align":"left","baseline":"alphabetic","dy":23.5,"fontSize":17.5},"encoding":{"text":{"field":"lab"},"x":{"datum":2.6,"type":"quantitative","scale":{"domain":[0,50],"nice":false},"axis":null},"y":{"datum":0.149,"type":"quantitative","scale":{"domain":[-0.0288,0.149],"nice":false,"zero":false},"axis":null}}}
]},
{"width":318,"height":92.8,"resolve":{"axis":{"x":"independent","y":"independent"}},"layer":[
{"data":{"name":"band"},"mark":{"type":"rect","color":"#d9d9d9"},"encoding":{"x":{"field":"a","type":"quantitative","scale":{"domain":[0,50],"nice":false},"axis":null},"x2":{"field":"b"}}},
{"data":{"name":"Cr900w"},"mark":{"type":"line","clip":true,"interpolate":"monotone","strokeCap":"butt"},"encoding":{"x":{"field":"z","type":"quantitative","scale":{"domain":[0,50],"nice":false},"axis":{"orient":"bottom","values":[0,10,20,30,40,50],"title":"z [nm]","titleX":318,"titleY":36.5,"titleAlign":"right","titleBaseline":"alphabetic","titleFontSize":17.5}},"y":{"field":"v","type":"quantitative","scale":{"domain":[0.0036,0.01389],"nice":false,"zero":false},"axis":{"orient":"left","values":[0.005,0.01],"format":".3f","title":null}},"color":{"datum":"w","type":"nominal","scale":{"domain":["w","r"],"range":["#ff0000","#000000"]}},"strokeDash":{"datum":"w","type":"nominal","scale":{"domain":["w","r"],"range":[[32.3,7.7,5,8.3],[1,0]]}},"strokeWidth":{"datum":"w","type":"ordinal","scale":{"domain":["w","r"],"range":[4.3,1.4]}}}},
{"data":{"name":"Cr900r"},"mark":{"type":"line","clip":true,"interpolate":"monotone"},"encoding":{"x":{"field":"z","type":"quantitative","scale":{"domain":[0,50],"nice":false},"axis":{"orient":"top","values":[0,10,20,30,40,50],"labels":false,"title":null}},"y":{"field":"v","type":"quantitative","scale":{"domain":[0.0036,0.01389],"nice":false,"zero":false},"axis":{"orient":"right","values":[0.005,0.01],"labels":false,"title":null}},"color":{"datum":"r","type":"nominal","scale":{"domain":["w","r"],"range":["#ff0000","#000000"]}},"strokeDash":{"datum":"r","type":"nominal","scale":{"domain":["w","r"],"range":[[32.3,7.7,5,8.3],[1,0]]}},"strokeWidth":{"datum":"r","type":"ordinal","scale":{"domain":["w","r"],"range":[4.3,1.4]}}}},
{"data":{"values":[{"lab":"900K"}]},"mark":{"type":"text","align":"left","baseline":"alphabetic","dy":-5.7,"fontSize":17.5},"encoding":{"text":{"field":"lab"},"x":{"datum":2.6,"type":"quantitative","scale":{"domain":[0,50],"nice":false},"axis":null},"y":{"datum":0.0036,"type":"quantitative","scale":{"domain":[0.0036,0.01389],"nice":false,"zero":false},"axis":null}}}
]},
{"width":318,"height":70,"data":{"values":[]},"mark":{"type":"point","opacity":0},"view":{"stroke":null}},
{"width":318,"height":70,"data":{"values":[]},"mark":{"type":"point","opacity":0},"view":{"stroke":null}},
{"width":318,"height":70,"data":{"values":[]},"mark":{"type":"point","opacity":0},"view":{"stroke":null}},
{"width":318,"height":92.8,"resolve":{"axis":{"x":"independent","y":"independent"}},"layer":[
{"data":{"name":"band"},"mark":{"type":"rect","color":"#d9d9d9"},"encoding":{"x":{"field":"a","type":"quantitative","scale":{"domain":[0,50],"nice":false},"axis":null},"x2":{"field":"b"}}},
{"data":{"name":"Si550w"},"mark":{"type":"line","clip":true,"interpolate":"monotone","strokeCap":"butt"},"encoding":{"x":{"field":"z","type":"quantitative","scale":{"domain":[0,50],"nice":false},"axis":{"orient":"bottom","values":[0,10,20,30,40,50],"labels":false,"title":null}},"y":{"field":"v","type":"quantitative","scale":{"domain":[-0.025,0.148],"nice":false,"zero":false},"axis":{"orient":"left","values":[0,0.1],"format":".1f","title":"𝐶ʙ [at.]","titleAngle":0,"titleX":-1,"titleY":-4.2,"titleAlign":"right","titleBaseline":"alphabetic","titleFontSize":17}},"color":{"datum":"w","type":"nominal","scale":{"domain":["w","r"],"range":["#ff0000","#000000"]}},"strokeDash":{"datum":"w","type":"nominal","scale":{"domain":["w","r"],"range":[[32.3,7.7,5,8.3],[1,0]]}},"strokeWidth":{"datum":"w","type":"ordinal","scale":{"domain":["w","r"],"range":[4.3,1.4]}}}},
{"data":{"name":"Si550r"},"mark":{"type":"line","clip":true,"interpolate":"monotone"},"encoding":{"x":{"field":"z","type":"quantitative","scale":{"domain":[0,50],"nice":false},"axis":{"orient":"top","values":[0,10,20,30,40,50],"labels":false,"title":"Fe-Si","titleX":159,"titleY":-4.7,"titleAlign":"center","titleBaseline":"alphabetic","titleFontSize":22.5}},"y":{"field":"v","type":"quantitative","scale":{"domain":[-0.025,0.148],"nice":false,"zero":false},"axis":{"orient":"right","values":[0,0.1],"labels":false,"title":null}},"color":{"datum":"r","type":"nominal","scale":{"domain":["w","r"],"range":["#ff0000","#000000"]}},"strokeDash":{"datum":"r","type":"nominal","scale":{"domain":["w","r"],"range":[[32.3,7.7,5,8.3],[1,0]]}},"strokeWidth":{"datum":"r","type":"ordinal","scale":{"domain":["w","r"],"range":[4.3,1.4]}}}},
{"data":{"values":[{"lab":"550K"}]},"mark":{"type":"text","align":"left","baseline":"alphabetic","dy":23.5,"fontSize":17.5},"encoding":{"text":{"field":"lab"},"x":{"datum":2.6,"type":"quantitative","scale":{"domain":[0,50],"nice":false},"axis":null},"y":{"datum":0.148,"type":"quantitative","scale":{"domain":[-0.025,0.148],"nice":false,"zero":false},"axis":null}}}
]},
{"width":318,"height":92.8,"resolve":{"axis":{"x":"independent","y":"independent"}},"layer":[
{"data":{"name":"band"},"mark":{"type":"rect","color":"#d9d9d9"},"encoding":{"x":{"field":"a","type":"quantitative","scale":{"domain":[0,50],"nice":false},"axis":null},"x2":{"field":"b"}}},
{"data":{"name":"Ni550w"},"mark":{"type":"line","clip":true,"interpolate":"monotone","strokeCap":"butt"},"encoding":{"x":{"field":"z","type":"quantitative","scale":{"domain":[0,50],"nice":false},"axis":{"orient":"bottom","values":[0,10,20,30,40,50],"labels":false,"title":null}},"y":{"field":"v","type":"quantitative","scale":{"domain":[-0.0143,0.0984],"nice":false,"zero":false},"axis":{"orient":"left","values":[0,0.05],"format":".2f","title":"𝐶ʙ [at.]","titleAngle":0,"titleX":-1,"titleY":-4.2,"titleAlign":"right","titleBaseline":"alphabetic","titleFontSize":17}},"color":{"datum":"w","type":"nominal","scale":{"domain":["w","r"],"range":["#ff0000","#000000"]}},"strokeDash":{"datum":"w","type":"nominal","scale":{"domain":["w","r"],"range":[[32.3,7.7,5,8.3],[1,0]]}},"strokeWidth":{"datum":"w","type":"ordinal","scale":{"domain":["w","r"],"range":[4.3,1.4]}}}},
{"data":{"name":"Ni550r"},"mark":{"type":"line","clip":true,"interpolate":"monotone"},"encoding":{"x":{"field":"z","type":"quantitative","scale":{"domain":[0,50],"nice":false},"axis":{"orient":"top","values":[0,10,20,30,40,50],"labels":false,"title":"Fe-Ni","titleX":159,"titleY":-4.7,"titleAlign":"center","titleBaseline":"alphabetic","titleFontSize":22.5}},"y":{"field":"v","type":"quantitative","scale":{"domain":[-0.0143,0.0984],"nice":false,"zero":false},"axis":{"orient":"right","values":[0,0.05],"labels":false,"title":null}},"color":{"datum":"r","type":"nominal","scale":{"domain":["w","r"],"range":["#ff0000","#000000"]}},"strokeDash":{"datum":"r","type":"nominal","scale":{"domain":["w","r"],"range":[[32.3,7.7,5,8.3],[1,0]]}},"strokeWidth":{"datum":"r","type":"ordinal","scale":{"domain":["w","r"],"range":[4.3,1.4]}}}},
{"data":{"values":[{"lab":"550K"}]},"mark":{"type":"text","align":"left","baseline":"alphabetic","dy":23.5,"fontSize":17.5},"encoding":{"text":{"field":"lab"},"x":{"datum":2.6,"type":"quantitative","scale":{"domain":[0,50],"nice":false},"axis":null},"y":{"datum":0.0984,"type":"quantitative","scale":{"domain":[-0.0143,0.0984],"nice":false,"zero":false},"axis":null}}}
]},
{"width":318,"height":92.8,"resolve":{"axis":{"x":"independent","y":"independent"}},"layer":[
{"data":{"name":"band"},"mark":{"type":"rect","color":"#d9d9d9"},"encoding":{"x":{"field":"a","type":"quantitative","scale":{"domain":[0,50],"nice":false},"axis":null},"x2":{"field":"b"}}},
{"data":{"name":"Cu550w"},"mark":{"type":"line","clip":true,"interpolate":"monotone","strokeCap":"butt"},"encoding":{"x":{"field":"z","type":"quantitative","scale":{"domain":[0,50],"nice":false},"axis":{"orient":"bottom","values":[0,10,20,30,40,50],"labels":false,"title":null}},"y":{"field":"v","type":"quantitative","scale":{"domain":[-0.0219,0.1337],"nice":false,"zero":false},"axis":{"orient":"left","values":[0,0.1],"format":".1f","title":"𝐶ʙ [at.]","titleAngle":0,"titleX":-1,"titleY":-4.2,"titleAlign":"right","titleBaseline":"alphabetic","titleFontSize":17}},"color":{"datum":"w","type":"nominal","scale":{"domain":["w","r"],"range":["#ff0000","#000000"]}},"strokeDash":{"datum":"w","type":"nominal","scale":{"domain":["w","r"],"range":[[32.3,7.7,5,8.3],[1,0]]}},"strokeWidth":{"datum":"w","type":"ordinal","scale":{"domain":["w","r"],"range":[4.3,1.4]}}}},
{"data":{"name":"Cu550r"},"mark":{"type":"line","clip":true,"interpolate":"monotone"},"encoding":{"x":{"field":"z","type":"quantitative","scale":{"domain":[0,50],"nice":false},"axis":{"orient":"top","values":[0,10,20,30,40,50],"labels":false,"title":"Fe-Cu","titleX":159,"titleY":-4.7,"titleAlign":"center","titleBaseline":"alphabetic","titleFontSize":22.5}},"y":{"field":"v","type":"quantitative","scale":{"domain":[-0.0219,0.1337],"nice":false,"zero":false},"axis":{"orient":"right","values":[0,0.1],"labels":false,"title":null}},"color":{"datum":"r","type":"nominal","scale":{"domain":["w","r"],"range":["#ff0000","#000000"]}},"strokeDash":{"datum":"r","type":"nominal","scale":{"domain":["w","r"],"range":[[32.3,7.7,5,8.3],[1,0]]}},"strokeWidth":{"datum":"r","type":"ordinal","scale":{"domain":["w","r"],"range":[4.3,1.4]}}}},
{"data":{"values":[{"lab":"550K"}]},"mark":{"type":"text","align":"left","baseline":"alphabetic","dy":23.5,"fontSize":17.5},"encoding":{"text":{"field":"lab"},"x":{"datum":2.6,"type":"quantitative","scale":{"domain":[0,50],"nice":false},"axis":null},"y":{"datum":0.1337,"type":"quantitative","scale":{"domain":[-0.0219,0.1337],"nice":false,"zero":false},"axis":null}}}
]},
{"width":318,"height":92.8,"resolve":{"axis":{"x":"independent","y":"independent"}},"layer":[
{"data":{"name":"band"},"mark":{"type":"rect","color":"#d9d9d9"},"encoding":{"x":{"field":"a","type":"quantitative","scale":{"domain":[0,50],"nice":false},"axis":null},"x2":{"field":"b"}}},
{"data":{"name":"Si700w"},"mark":{"type":"line","clip":true,"interpolate":"monotone","strokeCap":"butt"},"encoding":{"x":{"field":"z","type":"quantitative","scale":{"domain":[0,50],"nice":false},"axis":{"orient":"bottom","values":[0,10,20,30,40,50],"labels":false,"title":null}},"y":{"field":"v","type":"quantitative","scale":{"domain":[-0.0166,0.1115],"nice":false,"zero":false},"axis":{"orient":"left","values":[0,0.1],"format":".1f","title":null}},"color":{"datum":"w","type":"nominal","scale":{"domain":["w","r"],"range":["#ff0000","#000000"]}},"strokeDash":{"datum":"w","type":"nominal","scale":{"domain":["w","r"],"range":[[32.3,7.7,5,8.3],[1,0]]}},"strokeWidth":{"datum":"w","type":"ordinal","scale":{"domain":["w","r"],"range":[4.3,1.4]}}}},
{"data":{"name":"Si700r"},"mark":{"type":"line","clip":true,"interpolate":"monotone"},"encoding":{"x":{"field":"z","type":"quantitative","scale":{"domain":[0,50],"nice":false},"axis":{"orient":"top","values":[0,10,20,30,40,50],"labels":false,"title":null}},"y":{"field":"v","type":"quantitative","scale":{"domain":[-0.0166,0.1115],"nice":false,"zero":false},"axis":{"orient":"right","values":[0,0.1],"labels":false,"title":null}},"color":{"datum":"r","type":"nominal","scale":{"domain":["w","r"],"range":["#ff0000","#000000"]}},"strokeDash":{"datum":"r","type":"nominal","scale":{"domain":["w","r"],"range":[[32.3,7.7,5,8.3],[1,0]]}},"strokeWidth":{"datum":"r","type":"ordinal","scale":{"domain":["w","r"],"range":[4.3,1.4]}}}},
{"data":{"values":[{"lab":"700K"}]},"mark":{"type":"text","align":"left","baseline":"alphabetic","dy":23.5,"fontSize":17.5},"encoding":{"text":{"field":"lab"},"x":{"datum":2.6,"type":"quantitative","scale":{"domain":[0,50],"nice":false},"axis":null},"y":{"datum":0.1115,"type":"quantitative","scale":{"domain":[-0.0166,0.1115],"nice":false,"zero":false},"axis":null}}}
]},
{"width":318,"height":92.8,"resolve":{"axis":{"x":"independent","y":"independent"}},"layer":[
{"data":{"name":"band"},"mark":{"type":"rect","color":"#d9d9d9"},"encoding":{"x":{"field":"a","type":"quantitative","scale":{"domain":[0,50],"nice":false},"axis":null},"x2":{"field":"b"}}},
{"data":{"name":"Ni700w"},"mark":{"type":"line","clip":true,"interpolate":"monotone","strokeCap":"butt"},"encoding":{"x":{"field":"z","type":"quantitative","scale":{"domain":[0,50],"nice":false},"axis":{"orient":"bottom","values":[0,10,20,30,40,50],"labels":false,"title":null}},"y":{"field":"v","type":"quantitative","scale":{"domain":[-0.0038,0.0553],"nice":false,"zero":false},"axis":{"orient":"left","values":[0,0.05],"format":".2f","title":null}},"color":{"datum":"w","type":"nominal","scale":{"domain":["w","r"],"range":["#ff0000","#000000"]}},"strokeDash":{"datum":"w","type":"nominal","scale":{"domain":["w","r"],"range":[[32.3,7.7,5,8.3],[1,0]]}},"strokeWidth":{"datum":"w","type":"ordinal","scale":{"domain":["w","r"],"range":[4.3,1.4]}}}},
{"data":{"name":"Ni700r"},"mark":{"type":"line","clip":true,"interpolate":"monotone"},"encoding":{"x":{"field":"z","type":"quantitative","scale":{"domain":[0,50],"nice":false},"axis":{"orient":"top","values":[0,10,20,30,40,50],"labels":false,"title":null}},"y":{"field":"v","type":"quantitative","scale":{"domain":[-0.0038,0.0553],"nice":false,"zero":false},"axis":{"orient":"right","values":[0,0.05],"labels":false,"title":null}},"color":{"datum":"r","type":"nominal","scale":{"domain":["w","r"],"range":["#ff0000","#000000"]}},"strokeDash":{"datum":"r","type":"nominal","scale":{"domain":["w","r"],"range":[[32.3,7.7,5,8.3],[1,0]]}},"strokeWidth":{"datum":"r","type":"ordinal","scale":{"domain":["w","r"],"range":[4.3,1.4]}}}},
{"data":{"values":[{"lab":"700K"}]},"mark":{"type":"text","align":"left","baseline":"alphabetic","dy":23.5,"fontSize":17.5},"encoding":{"text":{"field":"lab"},"x":{"datum":2.6,"type":"quantitative","scale":{"domain":[0,50],"nice":false},"axis":null},"y":{"datum":0.0553,"type":"quantitative","scale":{"domain":[-0.0038,0.0553],"nice":false,"zero":false},"axis":null}}}
]},
{"width":318,"height":92.8,"resolve":{"axis":{"x":"independent","y":"independent"}},"layer":[
{"data":{"name":"band"},"mark":{"type":"rect","color":"#d9d9d9"},"encoding":{"x":{"field":"a","type":"quantitative","scale":{"domain":[0,50],"nice":false},"axis":null},"x2":{"field":"b"}}},
{"data":{"name":"Cu700w"},"mark":{"type":"line","clip":true,"interpolate":"monotone","strokeCap":"butt"},"encoding":{"x":{"field":"z","type":"quantitative","scale":{"domain":[0,50],"nice":false},"axis":{"orient":"bottom","values":[0,10,20,30,40,50],"labels":false,"title":null}},"y":{"field":"v","type":"quantitative","scale":{"domain":[-0.0107,0.0852],"nice":false,"zero":false},"axis":{"orient":"left","values":[0,0.05],"format":".2f","title":null}},"color":{"datum":"w","type":"nominal","scale":{"domain":["w","r"],"range":["#ff0000","#000000"]}},"strokeDash":{"datum":"w","type":"nominal","scale":{"domain":["w","r"],"range":[[32.3,7.7,5,8.3],[1,0]]}},"strokeWidth":{"datum":"w","type":"ordinal","scale":{"domain":["w","r"],"range":[4.3,1.4]}}}},
{"data":{"name":"Cu700r"},"mark":{"type":"line","clip":true,"interpolate":"monotone"},"encoding":{"x":{"field":"z","type":"quantitative","scale":{"domain":[0,50],"nice":false},"axis":{"orient":"top","values":[0,10,20,30,40,50],"labels":false,"title":null}},"y":{"field":"v","type":"quantitative","scale":{"domain":[-0.0107,0.0852],"nice":false,"zero":false},"axis":{"orient":"right","values":[0,0.05],"labels":false,"title":null}},"color":{"datum":"r","type":"nominal","scale":{"domain":["w","r"],"range":["#ff0000","#000000"]}},"strokeDash":{"datum":"r","type":"nominal","scale":{"domain":["w","r"],"range":[[32.3,7.7,5,8.3],[1,0]]}},"strokeWidth":{"datum":"r","type":"ordinal","scale":{"domain":["w","r"],"range":[4.3,1.4]}}}},
{"data":{"values":[{"lab":"700K"}]},"mark":{"type":"text","align":"left","baseline":"alphabetic","dy":23.5,"fontSize":17.5},"encoding":{"text":{"field":"lab"},"x":{"datum":2.6,"type":"quantitative","scale":{"domain":[0,50],"nice":false},"axis":null},"y":{"datum":0.0852,"type":"quantitative","scale":{"domain":[-0.0107,0.0852],"nice":false,"zero":false},"axis":null}}}
]},
{"width":318,"height":92.8,"resolve":{"axis":{"x":"independent","y":"independent"}},"layer":[
{"data":{"name":"band"},"mark":{"type":"rect","color":"#d9d9d9"},"encoding":{"x":{"field":"a","type":"quantitative","scale":{"domain":[0,50],"nice":false},"axis":null},"x2":{"field":"b"}}},
{"data":{"name":"Si900w"},"mark":{"type":"line","clip":true,"interpolate":"monotone","strokeCap":"butt"},"encoding":{"x":{"field":"z","type":"quantitative","scale":{"domain":[0,50],"nice":false},"axis":{"orient":"bottom","values":[0,10,20,30,40,50],"title":"z [nm]","titleX":318,"titleY":36.5,"titleAlign":"right","titleBaseline":"alphabetic","titleFontSize":17.5}},"y":{"field":"v","type":"quantitative","scale":{"domain":[0.00418,0.02104],"nice":false,"zero":false},"axis":{"orient":"left","values":[0.01,0.02],"format":".2f","title":null}},"color":{"datum":"w","type":"nominal","scale":{"domain":["w","r"],"range":["#ff0000","#000000"]}},"strokeDash":{"datum":"w","type":"nominal","scale":{"domain":["w","r"],"range":[[32.3,7.7,5,8.3],[1,0]]}},"strokeWidth":{"datum":"w","type":"ordinal","scale":{"domain":["w","r"],"range":[4.3,1.4]}}}},
{"data":{"name":"Si900r"},"mark":{"type":"line","clip":true,"interpolate":"monotone"},"encoding":{"x":{"field":"z","type":"quantitative","scale":{"domain":[0,50],"nice":false},"axis":{"orient":"top","values":[0,10,20,30,40,50],"labels":false,"title":null}},"y":{"field":"v","type":"quantitative","scale":{"domain":[0.00418,0.02104],"nice":false,"zero":false},"axis":{"orient":"right","values":[0.01,0.02],"labels":false,"title":null}},"color":{"datum":"r","type":"nominal","scale":{"domain":["w","r"],"range":["#ff0000","#000000"]}},"strokeDash":{"datum":"r","type":"nominal","scale":{"domain":["w","r"],"range":[[32.3,7.7,5,8.3],[1,0]]}},"strokeWidth":{"datum":"r","type":"ordinal","scale":{"domain":["w","r"],"range":[4.3,1.4]}}}},
{"data":{"values":[{"lab":"900K"}]},"mark":{"type":"text","align":"left","baseline":"alphabetic","dy":23.5,"fontSize":17.5},"encoding":{"text":{"field":"lab"},"x":{"datum":2.6,"type":"quantitative","scale":{"domain":[0,50],"nice":false},"axis":null},"y":{"datum":0.02104,"type":"quantitative","scale":{"domain":[0.00418,0.02104],"nice":false,"zero":false},"axis":null}}}
]},
{"width":318,"height":92.8,"resolve":{"axis":{"x":"independent","y":"independent"}},"layer":[
{"data":{"name":"band"},"mark":{"type":"rect","color":"#d9d9d9"},"encoding":{"x":{"field":"a","type":"quantitative","scale":{"domain":[0,50],"nice":false},"axis":null},"x2":{"field":"b"}}},
{"data":{"name":"Ni900w"},"mark":{"type":"line","clip":true,"interpolate":"monotone","strokeCap":"butt"},"encoding":{"x":{"field":"z","type":"quantitative","scale":{"domain":[0,50],"nice":false},"axis":{"orient":"bottom","values":[0,10,20,30,40,50],"title":"z [nm]","titleX":318,"titleY":36.5,"titleAlign":"right","titleBaseline":"alphabetic","titleFontSize":17.5}},"y":{"field":"v","type":"quantitative","scale":{"domain":[0.00609,0.01616],"nice":false,"zero":false},"axis":{"orient":"left","values":[0.01,0.015],"format":".3f","title":null}},"color":{"datum":"w","type":"nominal","scale":{"domain":["w","r"],"range":["#ff0000","#000000"]}},"strokeDash":{"datum":"w","type":"nominal","scale":{"domain":["w","r"],"range":[[32.3,7.7,5,8.3],[1,0]]}},"strokeWidth":{"datum":"w","type":"ordinal","scale":{"domain":["w","r"],"range":[4.3,1.4]}}}},
{"data":{"name":"Ni900r"},"mark":{"type":"line","clip":true,"interpolate":"monotone"},"encoding":{"x":{"field":"z","type":"quantitative","scale":{"domain":[0,50],"nice":false},"axis":{"orient":"top","values":[0,10,20,30,40,50],"labels":false,"title":null}},"y":{"field":"v","type":"quantitative","scale":{"domain":[0.00609,0.01616],"nice":false,"zero":false},"axis":{"orient":"right","values":[0.01,0.015],"labels":false,"title":null}},"color":{"datum":"r","type":"nominal","scale":{"domain":["w","r"],"range":["#ff0000","#000000"]}},"strokeDash":{"datum":"r","type":"nominal","scale":{"domain":["w","r"],"range":[[32.3,7.7,5,8.3],[1,0]]}},"strokeWidth":{"datum":"r","type":"ordinal","scale":{"domain":["w","r"],"range":[4.3,1.4]}}}},
{"data":{"values":[{"lab":"900K"}]},"mark":{"type":"text","align":"left","baseline":"alphabetic","dy":23.5,"fontSize":17.5},"encoding":{"text":{"field":"lab"},"x":{"datum":2.6,"type":"quantitative","scale":{"domain":[0,50],"nice":false},"axis":null},"y":{"datum":0.01616,"type":"quantitative","scale":{"domain":[0.00609,0.01616],"nice":false,"zero":false},"axis":null}}}
]},
{"width":318,"height":92.8,"resolve":{"axis":{"x":"independent","y":"independent"}},"layer":[
{"data":{"name":"band"},"mark":{"type":"rect","color":"#d9d9d9"},"encoding":{"x":{"field":"a","type":"quantitative","scale":{"domain":[0,50],"nice":false},"axis":null},"x2":{"field":"b"}}},
{"data":{"name":"Cu900w"},"mark":{"type":"line","clip":true,"interpolate":"monotone","strokeCap":"butt"},"encoding":{"x":{"field":"z","type":"quantitative","scale":{"domain":[0,50],"nice":false},"axis":{"orient":"bottom","values":[0,10,20,30,40,50],"title":"z [nm]","titleX":318,"titleY":36.5,"titleAlign":"right","titleBaseline":"alphabetic","titleFontSize":17.5}},"y":{"field":"v","type":"quantitative","scale":{"domain":[0.00566,0.01725],"nice":false,"zero":false},"axis":{"orient":"left","values":[0.01,0.015],"format":".3f","title":null}},"color":{"datum":"w","type":"nominal","scale":{"domain":["w","r"],"range":["#ff0000","#000000"]}},"strokeDash":{"datum":"w","type":"nominal","scale":{"domain":["w","r"],"range":[[32.3,7.7,5,8.3],[1,0]]}},"strokeWidth":{"datum":"w","type":"ordinal","scale":{"domain":["w","r"],"range":[4.3,1.4]}}}},
{"data":{"name":"Cu900r"},"mark":{"type":"line","clip":true,"interpolate":"monotone"},"encoding":{"x":{"field":"z","type":"quantitative","scale":{"domain":[0,50],"nice":false},"axis":{"orient":"top","values":[0,10,20,30,40,50],"labels":false,"title":null}},"y":{"field":"v","type":"quantitative","scale":{"domain":[0.00566,0.01725],"nice":false,"zero":false},"axis":{"orient":"right","values":[0.01,0.015],"labels":false,"title":null}},"color":{"datum":"r","type":"nominal","scale":{"domain":["w","r"],"range":["#ff0000","#000000"]}},"strokeDash":{"datum":"r","type":"nominal","scale":{"domain":["w","r"],"range":[[32.3,7.7,5,8.3],[1,0]]}},"strokeWidth":{"datum":"r","type":"ordinal","scale":{"domain":["w","r"],"range":[4.3,1.4]}}}},
{"data":{"values":[{"lab":"900K"}]},"mark":{"type":"text","align":"left","baseline":"alphabetic","dy":23.5,"fontSize":17.5},"encoding":{"text":{"field":"lab"},"x":{"datum":2.6,"type":"quantitative","scale":{"domain":[0,50],"nice":false},"axis":null},"y":{"datum":0.01725,"type":"quantitative","scale":{"domain":[0.00566,0.01725],"nice":false,"zero":false},"axis":null}}}
]}
]
}
